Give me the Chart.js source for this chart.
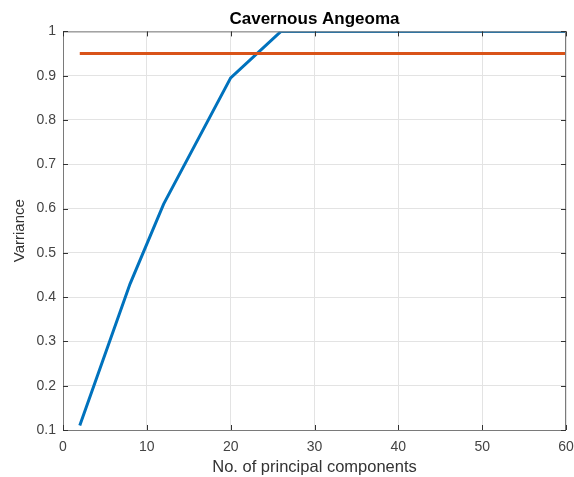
<!DOCTYPE html>
<html>
<head>
<meta charset="utf-8">
<script src="https://cdn.jsdelivr.net/npm/chart.js@4/dist/chart.umd.min.js"></script>
<style>
  html, body { margin: 0; padding: 0; background: #fff; }
  #wrap { width: 574px; height: 477px; }
</style>
</head>
<body>
<div id="wrap"><canvas id="chart" width="574" height="477"></canvas></div>
<script>
// data
const components = [2, 8, 12, 20, 26, 60];
const variance = [0.11, 0.43, 0.61, 0.895, 1, 1];
const thresholdX = [2, 60];
const thresholdY = [0.95, 0.95];
const xTicks = [0, 10, 20, 30, 40, 50, 60];
const yTicks = [0.1, 0.2, 0.3, 0.4, 0.5, 0.6, 0.7, 0.8, 0.9, 1];

const FONT = "'Liberation Sans', Arial, Helvetica, sans-serif";
const BLUE = "#0072BD";
const ORANGE = "#D95319";
const AXIS = "#7a7a7a";

function toPoints(xs, ys) {
  return xs.map((x, i) => ({ x: x, y: ys[i] }));
}

// matlab style box + inward tick marks
const boxPlugin = {
  id: "box",
  afterDatasetsDraw(chart) {
    const ctx = chart.ctx;
    const a = chart.chartArea;
    const xs = chart.scales.x;
    const ys = chart.scales.y;
    ctx.save();
    ctx.strokeStyle = AXIS;
    ctx.lineWidth = 1;
    ctx.strokeRect(a.left + 0.5, a.top + 0.5, a.right - a.left - 1, a.bottom - a.top);
    ctx.strokeStyle = "#333";
    ctx.beginPath();
    xTicks.forEach((t) => {
      const px = Math.round(xs.getPixelForValue(t)) + 0.5;
      ctx.moveTo(px, a.bottom);
      ctx.lineTo(px, a.bottom - 5);
      ctx.moveTo(px, a.top);
      ctx.lineTo(px, a.top + 5);
    });
    yTicks.forEach((t) => {
      const py = Math.round(ys.getPixelForValue(t)) + 0.5;
      ctx.moveTo(a.left, py);
      ctx.lineTo(a.left + 5, py);
      ctx.moveTo(a.right, py);
      ctx.lineTo(a.right - 5, py);
    });
    ctx.stroke();
    ctx.restore();
  },
};

new Chart(document.getElementById("chart").getContext("2d"), {
  type: "scatter",
  data: {
    datasets: [
      {
        label: "Threshold",
        data: toPoints(thresholdX, thresholdY),
        showLine: true,
        borderColor: ORANGE,
        backgroundColor: ORANGE,
        borderWidth: 3,
        pointRadius: 0,
        order: 1,
      },
      {
        label: "Variance",
        data: toPoints(components, variance),
        showLine: true,
        borderColor: BLUE,
        backgroundColor: BLUE,
        borderWidth: 3,
        pointRadius: 0,
        order: 2,
      },
    ],
  },
  options: {
    responsive: false,
    animation: false,
    layout: { padding: { left: 0, right: 8, top: 0, bottom: 0 } },
    plugins: {
      legend: { display: false },
      tooltip: { enabled: false },
      title: {
        display: true,
        text: "Cavernous Angeoma",
        fullSize: false,
        color: "#000",
        font: { family: FONT, size: 17, weight: "bold" },
        padding: { top: 9, bottom: 2 },
      },
    },
    scales: {
      x: {
        type: "linear",
        min: 0,
        max: 60,
        afterFit: (s) => {
          s.height = 47;
          s.paddingLeft = 0;
          s.paddingRight = 0;
        },
        afterBuildTicks: (s) => { s.ticks = xTicks.map((v) => ({ value: v })); },
        grid: { color: "#e3e3e3", tickLength: 0 },
        border: { display: false },
        ticks: {
          color: "#444",
          font: { family: FONT, size: 14 },
          padding: 9,
          maxRotation: 0,
        },
        title: {
          display: true,
          text: "No. of principal components",
          color: "#333",
          font: { family: FONT, size: 16.5 },
          padding: { top: 0, bottom: 0 },
        },
      },
      y: {
        type: "linear",
        min: 0.1,
        max: 1,
        afterFit: (s) => {
          s.width = 63;
          s.paddingTop = 0;
          s.paddingBottom = 0;
        },
        afterBuildTicks: (s) => { s.ticks = yTicks.map((v) => ({ value: v })); },
        grid: { color: "#e3e3e3", tickLength: 0 },
        border: { display: false },
        ticks: {
          color: "#444",
          font: { family: FONT, size: 14 },
          padding: 7,
          callback: (v) => String(Math.round(v * 10) / 10),
        },
        title: {
          display: true,
          text: "Varriance",
          color: "#333",
          font: { family: FONT, size: 15 },
          padding: { top: 11, bottom: 0 },
        },
      },
    },
  },
  plugins: [boxPlugin],
});
</script>
</body>
</html>
